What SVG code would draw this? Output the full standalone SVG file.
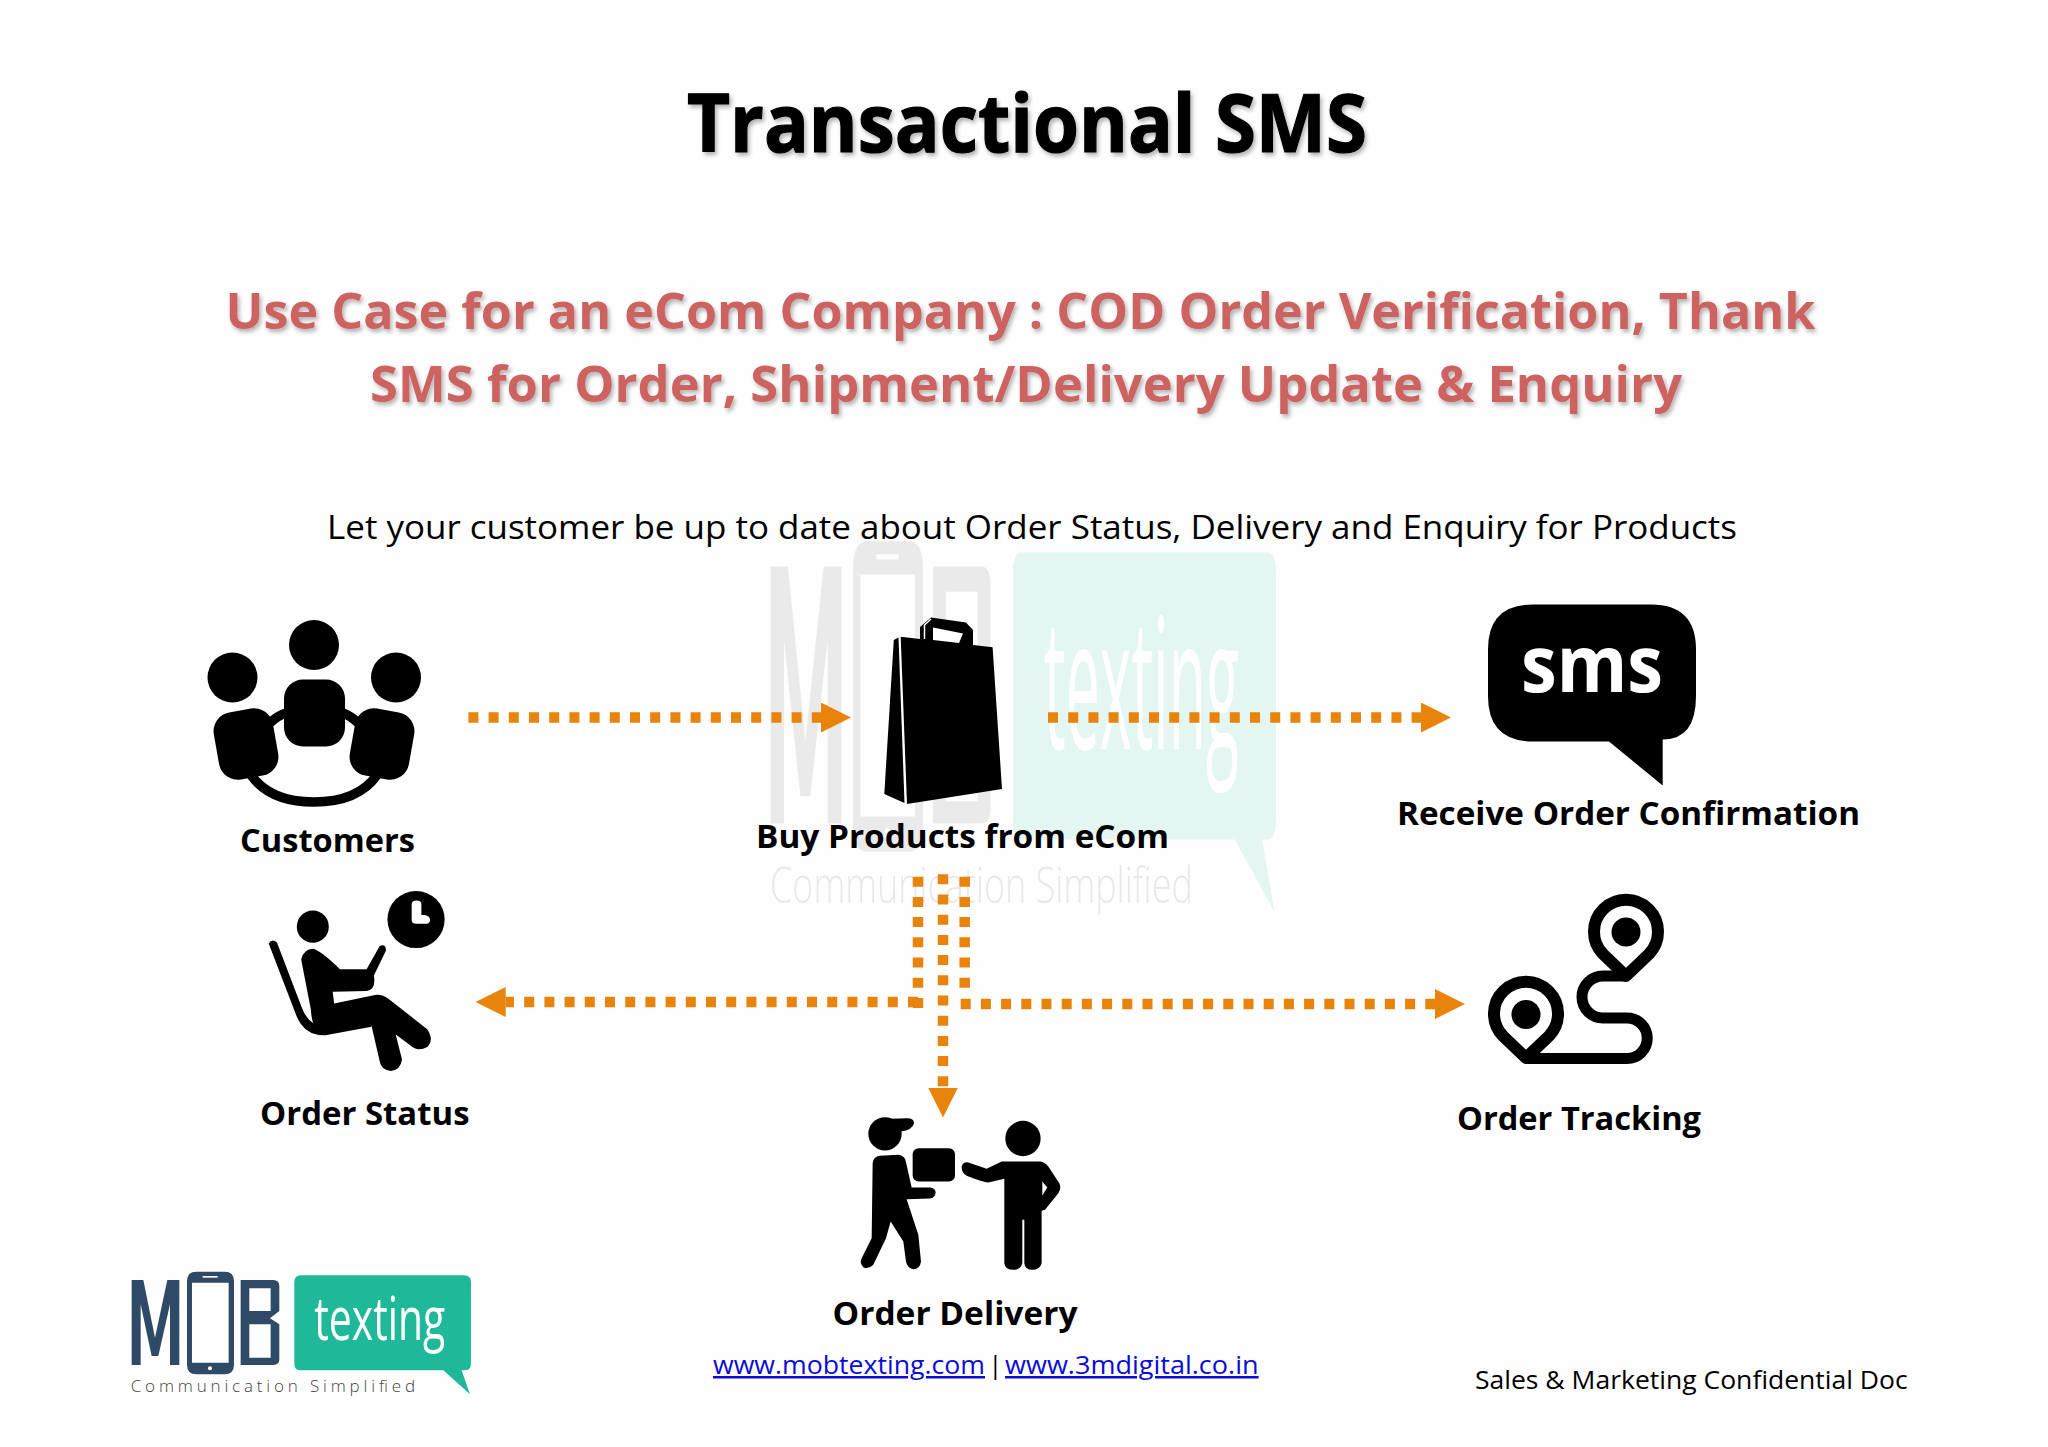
<svg xmlns="http://www.w3.org/2000/svg" xmlns:xlink="http://www.w3.org/1999/xlink" width="2048" height="1447" viewBox="0 0 2048 1447">
<style>
text{font-family:"Open Sans","Noto Sans","Liberation Sans",sans-serif}
.b{font-weight:700;fill:#000;font-size:32px}
.r{font-weight:400;fill:#000}
.sub{font-weight:700;fill:#cd6360;font-size:50px;filter:url(#sh)}
.link{fill:#0b0bd6;font-size:25px;text-decoration:underline}
.dot{fill:none;stroke:#e8830c;stroke-width:10.5;stroke-dasharray:10 10.2}
.arr{marker-end:url(#head)}
.ink{fill:#000}
</style>
<defs>
<filter id="sh" x="-5%" y="-20%" width="110%" height="150%"><feDropShadow dx="2" dy="3" stdDeviation="2" flood-color="#000" flood-opacity=".3"/></filter>
<marker id="head" markerUnits="userSpaceOnUse" markerWidth="30" markerHeight="30" viewBox="0 0 30 30" refX="0" refY="15" orient="auto"><path d="M0 0L30 15L0 30Z" fill="#e8830c"/></marker>
<g id="logoshape">
<path fill="currentColor" d="M65 312V57H100L135 230L172 57H208V312H180V130L145 285H125L92 130V312Z"/>
<path fill="currentColor" fill-rule="evenodd" d="M259 32H344Q372 32 372 60V312Q372 340 344 340H259Q231 340 231 312V60Q231 32 259 32ZM246 65V305H356V65Z"/>
<rect x="278" y="45" width="45" height="5" fill="#fff"/><circle cx="300" cy="322" r="6" fill="#fff"/>
<path fill="currentColor" fill-rule="evenodd" d="M392 57H490Q508 57 508 75V150L480 172L508 190V295Q508 312 490 312H392ZM418 82V150H460L482 150V82ZM418 190V290H482V190Z"/>
<path fill="#1fb999" d="M573 43H1063Q1083 43 1083 63V308Q1083 328 1063 328H1055L1080 400L1000 328H573Q553 328 553 308V63Q553 43 573 43Z"/>
</g>
</defs>
<rect width="2048" height="1447" fill="#fefefe"/>

<g id="watermark" opacity=".11">
<use xlink:href="#logoshape" href="#logoshape" color="#555" transform="translate(738.3 509) scale(.4965 1.008)"/>
<text x="1044" y="749" font-size="183" font-weight="400" fill="#fff" textLength="195" lengthAdjust="spacingAndGlyphs">texting</text>
<text x="770" y="903" font-size="50" font-weight="300" fill="#444" textLength="423" lengthAdjust="spacingAndGlyphs">Communication Simplified</text>
</g>

<g id="heading">
<text x="687" y="152" font-size="80" font-weight="700" fill="#000" stroke="#000" stroke-width="1.2" filter="url(#sh)" textLength="680" lengthAdjust="spacingAndGlyphs">Transactional SMS</text>
<text class="sub" x="225.5" y="329" textLength="1590" lengthAdjust="spacingAndGlyphs">Use Case for an eCom Company : COD Order Verification, Thank</text>
<text class="sub" x="370" y="402" textLength="1312" lengthAdjust="spacingAndGlyphs">SMS for Order, Shipment/Delivery Update &amp; Enquiry</text>
<text class="r" x="327" y="539" font-size="33" textLength="1410" lengthAdjust="spacingAndGlyphs">Let your customer be up to date about Order Status, Delivery and Enquiry for Products</text>
</g>

<g id="connectors">
<path class="dot arr" d="M468.4 717.5H821"/>
<path class="dot arr" d="M1048 717.5H1421"/>
<path class="dot" d="M918 876.7V1008"/>
<path class="dot arr" d="M943 874.3V1087.5"/>
<path class="dot" d="M964.7 876.7V988"/>
<path class="dot arr" d="M918 1002H505.7"/>
<path class="dot arr" d="M960.7 1004H1435"/>
</g>

<g id="customers">
<circle class="ink" cx="314" cy="645" r="25"/><circle class="ink" cx="232.5" cy="677.5" r="25"/><circle class="ink" cx="396" cy="677.5" r="25"/>
<rect class="ink" x="284" y="679.5" width="61" height="67" rx="19"/>
<rect class="ink" x="216" y="710" width="60" height="68" rx="19" transform="rotate(-10 246 744)"/>
<rect class="ink" x="352" y="710" width="60" height="68" rx="19" transform="rotate(10 382 744)"/>
<path fill="none" stroke="#000" stroke-width="9.5" d="M251 775Q270 802 314 802Q358 802 377 775M270 723Q277 716 286 713M358 723Q351 716 343 713"/>
<text class="b" x="240" y="852" textLength="175" lengthAdjust="spacingAndGlyphs">Customers</text>
</g>

<g id="buy-products">
<path class="ink" d="M900.7 636.7L920 639V627L931 617.5L966 622.5L973 630V645L992.6 647.3L1002 789L907 804Z"/>
<path class="ink" d="M893.8 640L898.5 637.5L904.5 803L884.3 794Z"/>
<path fill="#fff" d="M933 627.5L963 633.5L959 643L933 640Z"/>
<path fill="none" stroke="#fff" stroke-width="1.5" d="M924.5 639V625L931 619"/>
<text class="b" x="756" y="848" textLength="413" lengthAdjust="spacingAndGlyphs">Buy Products from eCom</text>
</g>

<g id="receive-confirmation">
<path class="ink" d="M1533 604.5H1651Q1696 604.5 1696 649.5V696Q1696 739.5 1662.7 739.5V785.5L1609 741.5H1533Q1488 741.5 1488 696V649.5Q1488 604.5 1533 604.5Z"/>
<text x="1521" y="692" font-size="79" font-weight="700" fill="#fff" textLength="142" lengthAdjust="spacingAndGlyphs">sms</text>
<text class="b" x="1397" y="824.5" textLength="463" lengthAdjust="spacingAndGlyphs">Receive Order Confirmation</text>
</g>

<g id="order-status">
<g transform="translate(180 581) scale(.4847 .3571)">
<ellipse class="ink" cx="274" cy="968" rx="33" ry="45"/>
<ellipse class="ink" cx="487" cy="948" rx="59" ry="80"/>
<path fill="#fff" d="M478 905Q478 895 488 895Q498 895 498 905V935H505Q516 938 516 949Q516 960 505 960H488Q478 960 478 950Z"/>
<path class="ink" d="M183 1015Q190 1000 200 1012L250 1190Q262 1238 290 1246L395 1215V1248L300 1272Q255 1275 238 1210Z"/>
<path class="ink" d="M250 1060Q255 1030 275 1030Q290 1035 330 1087H385L412 1022Q425 1015 425 1035L400 1105Q405 1145 385 1148L315 1150L318 1183L400 1160Q415 1155 430 1170L510 1255Q525 1285 510 1305Q490 1320 475 1300L445 1270L458 1340Q455 1370 435 1372Q415 1370 412 1345L395 1245L285 1250Q272 1250 270 1200Z"/>
</g>
<text class="b" x="260" y="1125" textLength="209.5" lengthAdjust="spacingAndGlyphs">Order Status</text>
</g>

<g id="order-tracking">
<path fill="#fefefe" stroke="#000" stroke-width="12" stroke-linejoin="round" d="M1626 976L1603 954A32 32 0 1 1 1649 954Z"/>
<circle class="ink" cx="1626" cy="932" r="14.5"/>
<path fill="#fefefe" stroke="#000" stroke-width="12" stroke-linejoin="round" d="M1526 1058L1503 1036A32 32 0 1 1 1549 1036Z"/>
<circle class="ink" cx="1526" cy="1014.5" r="14.5"/>
<path fill="none" stroke="#000" stroke-width="11" d="M1626 976H1603A21 21 0 0 0 1603 1018H1627A20 20 0 0 1 1627 1058.5H1525"/>
<text class="b" x="1457" y="1130" textLength="244" lengthAdjust="spacingAndGlyphs">Order Tracking</text>
</g>

<g id="order-delivery">
<g transform="translate(780 1091.5) scale(.3333)">
<circle class="ink" cx="315" cy="127" r="50"/>
<path class="ink" d="M330 82L385 80Q402 82 402 95Q398 115 362 120Z"/>
<rect class="ink" x="398" y="170" width="127" height="100" rx="18"/>
<path class="ink" d="M278 215Q280 195 300 193L355 190Q375 192 378 212L395 288H450Q467 290 467 304Q465 320 450 321L380 323L415 430L423 510Q420 533 400 533Q382 530 378 510L370 450L332 390L318 440L280 520Q265 535 250 527Q238 515 245 500L275 440Z"/>
<circle class="ink" cx="729" cy="141" r="53"/>
<path class="ink" d="M545 225Q550 210 565 213L620 232L665 210H780Q795 212 805 225L838 275Q845 290 835 305L795 355L785 358V515Q780 535 757 535Q735 535 733 515V385H727V515Q722 535 700 535Q675 535 673 515V262L625 273Q610 273 560 253Q545 245 545 225Z"/>
<path fill="#fefefe" d="M787 270L802 288L787 312Z"/>
</g>
<text class="b" x="832.5" y="1325" textLength="245" lengthAdjust="spacingAndGlyphs">Order Delivery</text>
</g>

<g id="logo">
<use xlink:href="#logoshape" href="#logoshape" color="#2f4a66" transform="translate(110 1261) scale(.3333)"/>
<text x="314.3" y="1340" font-size="60" fill="#fff" textLength="131" lengthAdjust="spacingAndGlyphs">texting</text>
<text x="130.7" y="1392" font-size="17" font-weight="300" fill="#444" textLength="284.3">Communication Simplified</text>
</g>

<g id="footer">
<text class="link" x="713" y="1374" textLength="272" lengthAdjust="spacingAndGlyphs">www.mobtexting.com</text>
<text class="r" x="988.5" y="1374" font-size="25">|</text>
<text class="link" x="1005" y="1374" textLength="253.6" lengthAdjust="spacingAndGlyphs">www.3mdigital.co.in</text>
<text class="r" x="1475" y="1388.5" font-size="25" textLength="432.7" lengthAdjust="spacingAndGlyphs">Sales &amp; Marketing Confidential Doc</text>
</g>
</svg>
